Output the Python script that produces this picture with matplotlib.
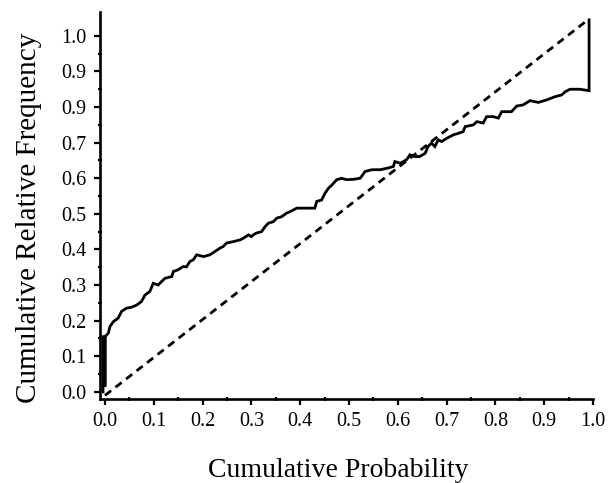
import numpy as np
import matplotlib
matplotlib.use("Agg")
from matplotlib import pyplot as plt
from matplotlib.ticker import FixedLocator, FixedFormatter

cum_prob = [
    -0.004, -0.004, 0.0, 0.0, 0.0, 0.007, 0.010, 0.017, 0.027, 0.034, 0.044,
    0.055, 0.065, 0.075, 0.082, 0.092, 0.099, 0.109, 0.116, 0.123, 0.137,
    0.140, 0.150, 0.160, 0.167, 0.174, 0.181, 0.188, 0.202, 0.215, 0.225,
    0.236, 0.242, 0.249, 0.263, 0.277, 0.283, 0.294, 0.300, 0.304, 0.310,
    0.321, 0.328, 0.335, 0.345, 0.352, 0.362, 0.372, 0.379, 0.393, 0.410,
    0.430, 0.434, 0.444, 0.451, 0.458, 0.465, 0.475, 0.485, 0.495, 0.509,
    0.523, 0.533, 0.547, 0.564, 0.578, 0.591, 0.594, 0.605, 0.618, 0.625,
    0.635, 0.645, 0.656, 0.662, 0.669, 0.676, 0.683, 0.690, 0.700, 0.714,
    0.724, 0.734, 0.738, 0.755, 0.762, 0.775, 0.782, 0.796, 0.806, 0.813,
    0.833, 0.844, 0.857, 0.871, 0.888, 0.905, 0.922, 0.936, 0.943, 0.953,
    0.973, 0.992, 0.992,
]
rel_freq = [
    0.0, 0.155, 0.155, 0.015, 0.155, 0.165, 0.183, 0.197, 0.207, 0.226, 0.235,
    0.238, 0.244, 0.254, 0.272, 0.282, 0.305, 0.300, 0.310, 0.319, 0.324,
    0.338, 0.343, 0.352, 0.351, 0.366, 0.371, 0.385, 0.380, 0.385, 0.394,
    0.404, 0.408, 0.418, 0.422, 0.427, 0.431, 0.441, 0.436, 0.441, 0.446,
    0.450, 0.464, 0.474, 0.478, 0.488, 0.492, 0.502, 0.506, 0.516, 0.516,
    0.516, 0.535, 0.539, 0.558, 0.572, 0.581, 0.596, 0.600, 0.596, 0.597,
    0.600, 0.619, 0.624, 0.624, 0.628, 0.633, 0.647, 0.642, 0.652, 0.666,
    0.661, 0.661, 0.670, 0.689, 0.699, 0.689, 0.708, 0.703, 0.712, 0.722,
    0.726, 0.731, 0.745, 0.750, 0.759, 0.755, 0.773, 0.773, 0.769, 0.787,
    0.787, 0.803, 0.806, 0.818, 0.813, 0.820, 0.829, 0.834, 0.843, 0.850,
    0.850, 0.846, 1.045,
]

# reference diagonal
diag_x = [0.0, 0.985]
diag_y = [-0.01, 1.04]

x_ticks = [0.0, 0.1, 0.2, 0.3, 0.4, 0.5, 0.6, 0.7, 0.8, 0.9, 1.0]
x_labels = ["0.0", "0.1", "0.2", "0.3", "0.4", "0.5", "0.6", "0.7", "0.8", "0.9", "1.0"]
y_ticks = [0.0, 0.1, 0.2, 0.3, 0.4, 0.5, 0.6, 0.7, 0.8, 0.9, 1.0]
y_labels = ["0.0", "0.1", "0.2", "0.3", "0.4", "0.5", "0.6", "0.7", "0.9", "0.9", "1.0"]
minor_ticks = [0.05, 0.15, 0.25, 0.35, 0.45, 0.55, 0.65, 0.75, 0.85, 0.95]

plt.rcParams["font.family"] = ["Liberation Serif", "DejaVu Serif"]

fig = plt.figure(figsize=(6.1, 4.83), dpi=100)
ax = fig.add_axes([0.1639, 0.1739, 0.8082, 0.8013])

ax.plot(cum_prob, rel_freq, color="black", lw=2.0, solid_joinstyle="miter")
ax.plot(diag_x, diag_y, color="black", lw=2.0, linestyle=(0, (2.8, 2.0)))

ax.set_xlim(-0.0102, 1.0)
ax.set_ylim(-0.02, 1.067)

for s in ["top", "right"]:
    ax.spines[s].set_visible(False)
for s in ["left", "bottom"]:
    ax.spines[s].set_linewidth(1.9)

ax.xaxis.set_major_locator(FixedLocator(x_ticks))
ax.xaxis.set_major_formatter(FixedFormatter(x_labels))
ax.yaxis.set_major_locator(FixedLocator(y_ticks))
ax.yaxis.set_major_formatter(FixedFormatter(y_labels))
ax.xaxis.set_minor_locator(FixedLocator(minor_ticks))
ax.yaxis.set_minor_locator(FixedLocator(minor_ticks))

ax.tick_params(which="major", direction="out", length=4.5, width=1.6, labelsize=14.5)
ax.tick_params(which="minor", direction="inout", length=3.5, width=1.6)
ax.tick_params(axis="x", which="major", pad=5)
ax.tick_params(axis="y", which="major", pad=5)

ax.set_xlabel("Cumulative Probability", fontsize=20, labelpad=19)
ax.set_ylabel("Cumulative Relative Frequency", fontsize=21, labelpad=14)
ax.xaxis.label.set_x(0.483)
ax.yaxis.label.set_y(0.468)

fig.savefig("out.png", dpi=100)
